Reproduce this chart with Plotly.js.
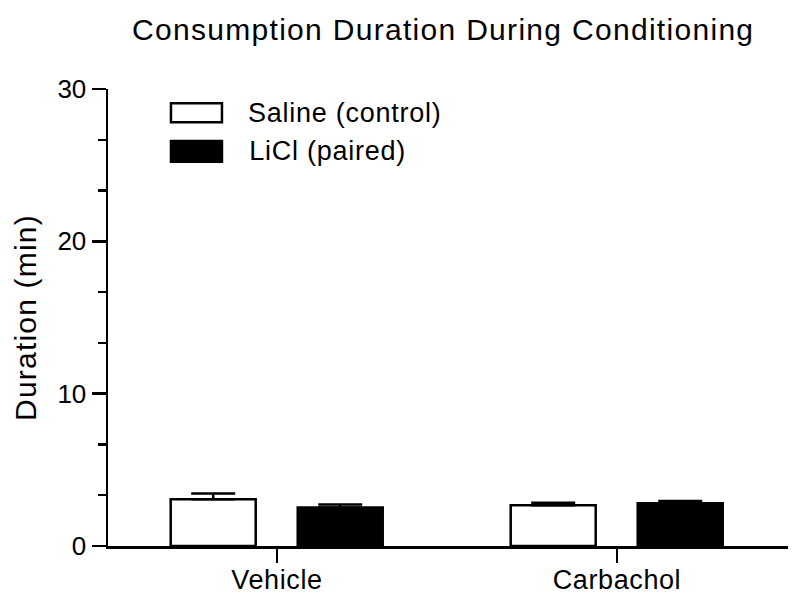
<!DOCTYPE html>
<html>
<head>
<meta charset="utf-8">
<script src="https://cdn.plot.ly/plotly-3.0.1.min.js"></script>
<style>
html,body{margin:0;padding:0;background:#fff;}
#chart{width:800px;height:598px;}
#chart .gtitle{letter-spacing:1.3px;}
#chart .ytitle{letter-spacing:1.2px;}
#chart .xtick text{letter-spacing:0.6px;}
#chart .annotation-text{letter-spacing:0.75px;}
</style>
</head>
<body>
<div id="chart"></div>
<script>
// ---- data ----
const categories = ["Vehicle", "Carbachol"];
const seriesNames = ["Saline (control)", "LiCl (paired)"];
const salineMeans = [3.07, 2.67];
const salineSem = [0.37, 0.17];
const liclMeans = [2.52, 2.80];
const liclSem = [0.20, 0.15];
const yTicks = [0, 10, 20, 30];

const FONT = '"Liberation Sans", Arial, sans-serif';
const xPos = categories.map((c, i) => i);

const saline = {
  type: 'bar', name: seriesNames[0], x: xPos, y: salineMeans,
  offset: -0.3126, width: 0.25,
  marker: {color: '#ffffff', line: {color: '#000000', width: 2.5}},
  error_y: {type: 'data', symmetric: false, array: salineSem, arrayminus: salineMeans.map(() => 0),
            color: '#000000', thickness: 2.5, width: 22},
  showlegend: false, hoverinfo: 'skip'
};
const licl = {
  type: 'bar', name: seriesNames[1], x: xPos, y: liclMeans,
  offset: 0.061, width: 0.25,
  marker: {color: '#000000', line: {color: '#000000', width: 2.5}},
  error_y: {type: 'data', symmetric: false, array: liclSem, arrayminus: liclMeans.map(() => 0),
            color: '#000000', thickness: 2.5, width: 22},
  showlegend: false, hoverinfo: 'skip'
};

// custom legend (wide boxes like the reference)
const legendFills = ['#ffffff', '#000000'];
const legendBoxes = [[0.9687, 0.9271], [0.8862, 0.8409]];
const shapes = legendBoxes.map((b, i) => ({
  type: 'rect', xref: 'paper', yref: 'paper', x0: 0.0926, x1: 0.1676, y0: b[1], y1: b[0],
  fillcolor: legendFills[i], line: {color: '#000000', width: 2.5}
}));
const annotations = seriesNames.map((n, i) => ({
  xref: 'paper', yref: 'paper', x: 0.2118, y: (legendBoxes[i][0] + legendBoxes[i][1]) / 2,
  xanchor: 'left', yanchor: 'middle', text: n, showarrow: false,
  font: {family: FONT, size: 27, color: '#000000'}
}));

const layout = {
  width: 800, height: 598,
  margin: {l: 108, r: 12, t: 89, b: 52},
  paper_bgcolor: '#ffffff', plot_bgcolor: '#ffffff',
  font: {family: FONT, color: '#000000'},
  title: {text: 'Consumption Duration During Conditioning', xref: 'container', x: 0.554, xanchor: 'center',
          yref: 'container', y: 0.95, yanchor: 'middle', font: {family: FONT, size: 30, color: '#000000'}},
  barmode: 'group',
  xaxis: {
    range: [-0.497, 1.503], tickvals: xPos, ticktext: categories,
    showline: true, linecolor: '#000000', linewidth: 2.5,
    ticks: 'outside', ticklen: 14, tickwidth: 2.5, tickcolor: '#000000',
    ticklabelstandoff: -6,
    showgrid: false, zeroline: false,
    tickfont: {family: FONT, size: 27, color: '#000000'}, fixedrange: true
  },
  yaxis: {
    range: [0, 30], tickvals: yTicks, ticktext: yTicks.map(String),
    showline: true, linecolor: '#000000', linewidth: 2.5,
    ticks: 'outside', ticklen: 14, tickwidth: 2.5, tickcolor: '#000000',
    minor: {dtick: 10 / 3, tick0: 0, ticks: 'outside', ticklen: 8, tickwidth: 2.5, tickcolor: '#000000', showgrid: false},
    showgrid: false, zeroline: false,
    tickfont: {family: FONT, size: 26, color: '#000000'},
    title: {text: 'Duration (min)', font: {family: FONT, size: 30, color: '#000000'}, standoff: 12},
    fixedrange: true
  },
  shapes: shapes,
  annotations: annotations
};

Plotly.newPlot('chart', [saline, licl], layout, {displayModeBar: false, staticPlot: true});
</script>
</body>
</html>
